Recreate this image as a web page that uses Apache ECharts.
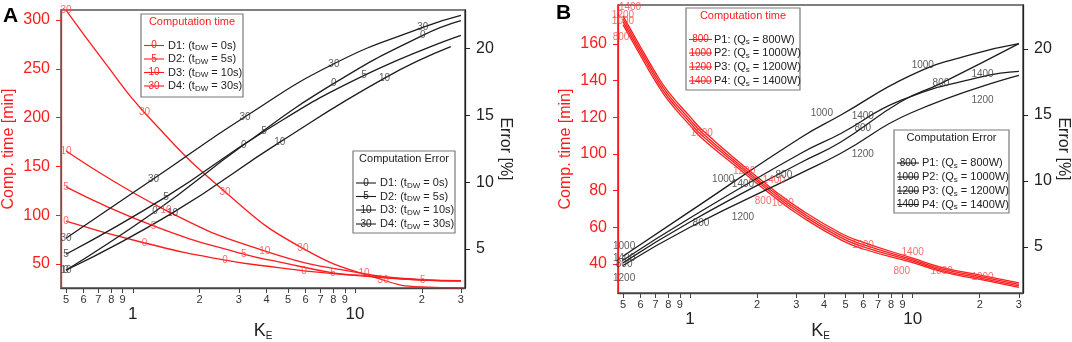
<!DOCTYPE html>
<html>
<head>
<meta charset="utf-8">
<script src="https://cdn.jsdelivr.net/npm/echarts@6/dist/echarts.min.js"></script>
<style>
html,body{margin:0;padding:0;background:#fff;}
#main{width:1072px;height:342px;}
</style>
</head>
<body>
<div id="main"></div>
<script>
// ---- panel A : computation time [min], left axis ----
var timeD1 = [[0.5,94],[1.13,71.5],[2.6,54],[4.6,46],[5.9,43],[11,37.5],[20,33.5],[30,32.5]];
var timeD2 = [[0.5,129],[1.24,89],[3.16,60],[4.6,52],[7.96,41],[11,38],[20.2,33.6],[30,33]];
var timeD3 = [[0.5,166],[1.41,105],[3.97,63],[11,40],[20,34],[30,32.6]];
var timeD4 = [[0.5,310],[0.75,256],[1.13,205],[2.6,124],[5.83,66],[13.4,33.6],[20,26.5],[30,25.5]];
// ---- panel A : computation error [%], right axis ----
var errD1 = [[0.5,3.4],[1.26,7.8],[3.16,12.8],[8.04,17.4],[20.2,21.0],[30,22.1]];
var errD2 = [[0.5,4.6],[1.41,8.9],[3.9,13.8],[11,18.0],[30,21.0]];
var errD3 = [[0.5,3.4],[1.51,7.7],[4.59,13.0],[13.6,17.8],[27,20.15]];
var errD4 = [[0.5,5.8],[1.24,10.25],[3.2,14.9],[8.04,18.87],[20.2,21.6],[30,22.5]];
// text markers sitting on the curves (x, y, text)
var timeMarksA = [
  [0.5,310,'30'],[1.13,205,'30'],[2.6,124,'30'],[5.83,66,'30'],[13.4,33.6,'30'],
  [0.5,166,'10'],[1.41,105,'10'],[3.93,63,'10'],[11,40,'10'],
  [0.5,129,'5'],[1.24,89,'5'],[3.16,60,'5'],[7.96,41,'5'],[20.2,33.6,'5'],
  [0.5,94,'0'],[1.13,71.5,'0'],[2.6,54,'0'],[5.9,43,'0']
];
var errMarksA = [
  [0.5,5.8,'30'],[1.24,10.25,'30'],[3.2,14.9,'30'],[8.04,18.87,'30'],[20.2,21.6,'30'],
  [0.5,4.6,'5'],[1.41,8.9,'5'],[3.9,13.8,'5'],[11,18.0,'5'],
  [0.5,3.4,'0'],[1.26,7.8,'0'],[3.16,12.8,'0'],[8.04,17.4,'0'],[20.2,21.0,'0'],
  [0.5,3.4,'10'],[1.51,7.7,'10'],[4.59,13.0,'10'],[13.6,17.8,'10']
];

// ---- panel B : computation time [min], left axis ----
var timeP1 = [[0.5,170.6],[0.6,153.6],[0.7,139.6],[0.8,129.1],[1,115.6],[1.13,108.6],[1.69,91.2],[2.38,76.7],[3.14,66.2],[4.76,53.2],[6,48.2],[10,40.8],[13.5,35.8],[20.6,31.3],[30,27.3]];
var timeP2 = [[0.5,172.2],[0.6,155.2],[0.7,141.2],[0.8,130.7],[1,117.2],[1.13,110.2],[1.69,92.4],[2.38,77.9],[3.14,67.4],[4.76,54.4],[6,49.4],[10,41.6],[13.5,36.6],[20.6,32.1],[30,28.1]];
var timeP3 = [[0.5,173.8],[0.6,156.8],[0.7,142.8],[0.8,132.3],[1,118.8],[1.13,111.8],[1.69,93.6],[2.38,79.1],[3.14,68.6],[4.76,55.6],[6,50.6],[10,42.4],[13.5,37.4],[20.6,32.9],[30,28.9]];
var timeP4 = [[0.5,175.4],[0.6,158.4],[0.7,144.4],[0.8,133.9],[1,120.4],[1.13,113.4],[1.69,94.8],[2.38,80.3],[3.14,69.8],[4.76,56.8],[6,51.8],[10,43.2],[13.5,38.2],[20.6,33.7],[30,29.7]];
// ---- panel B : computation error [%], right axis ----
var errP1 = [[0.5,3.8],[1,6.9],[3.15,11.4],[4.76,12.95],[8.84,16.0],[13.4,17.4],[30,20.4]];
var errP2 = [[0.5,4.3],[1,7.7],[3.15,13.3],[4.76,15.0],[9.8,18.0],[17.6,19.5],[30,20.4]];
var errP3 = [[0.5,3.6],[1,6.5],[3.15,10.6],[4.76,12.1],[9.8,15.15],[30,18.0]];
var errP4 = [[0.5,4.0],[1,7.2],[3.15,12.1],[4.76,13.6],[8.84,16.1],[20.6,17.9],[30,18.3]];
var timeMarksB = [
  [0.538,180,'1400'],[0.5,175.8,'1200'],[0.5,172.5,'1000'],[0.49,163.8,'800'],
  [1.13,111.5,'1000'],[1.75,90.8,'1200'],[2.38,85.9,'1400'],[2.13,74.4,'800'],[2.61,73.3,'1000'],
  [5.97,50.5,'1000'],[10,46.7,'1400'],[8.94,35.8,'800'],[13.5,35.8,'1000'],[20.6,33,'1000']
];
var errMarksB = [
  [0.506,5.08,'1000'],[0.506,4.17,'1400'],[0.506,3.7,'800'],[0.506,2.65,'1200'],
  [1.12,6.8,'800'],[1.73,7.27,'1200'],[1.41,10.15,'1000'],[1.73,9.77,'1400'],[2.64,10.45,'800'],
  [3.91,15.15,'1000'],[5.97,14.9,'1400'],[5.97,14.0,'800'],[5.97,12.05,'1200'],
  [11.1,18.8,'1000'],[13.4,17.4,'800'],[20.6,18.1,'1400'],[20.6,16.1,'1200']
];

// axis ticks / labels
var kTicks = [0.5,0.6,0.7,0.8,0.9,1,2,3,4,5,6,7,8,9,10,20,30];
var timeTicksA = [50,100,150,200,250,300];
var timeTicksB = [40,60,80,100,120,140,160];
var errTicks = [5,10,15,20];

// legend texts
var legNamesA = ['D1','D2','D3','D4'];
var legDW = ['0','5','10','30'];
var legNamesB = ['P1','P2','P3','P4'];
var legQs = ['800','1000','1200','1400'];

var FONT = '"Liberation Sans", Arial, Helvetica, sans-serif';
var RED = '#ff1c1c', RED_TXT = '#ff4646', BLK = '#1c1c1c';

var chart = echarts.init(document.getElementById('main'));

function fmtK(v) {
  var e = Math.floor(Math.log10(v) + 1e-9);
  var m = Math.round(v / Math.pow(10, e));
  if (m === 1) return '{b|' + Math.round(v) + '}';
  return '{s|' + m + '}';
}

function xAxisFor(g, gap) {
  return {
    type: 'log', gridIndex: g, logBase: 10, min: 0.475, max: 31.3,
    name: '{k|K}{e|E}', nameLocation: 'middle', nameGap: gap, nameMoveOverlap: false,
    nameTextStyle: {rich: {
      k: {fontSize: 18, fontFamily: FONT, color: '#222'},
      e: {fontSize: 10, fontFamily: FONT, color: '#222', padding: [9, 0, 0, 0]}
    }},
    axisLine: {lineStyle: {color: '#444', width: 1.3}},
    axisTick: {customValues: kTicks, length: 5, lineStyle: {color: '#444'}},
    axisLabel: {customValues: kTicks, margin: 6, formatter: fmtK, rich: {
      s: {fontSize: 11, fontFamily: FONT, color: '#333'},
      b: {fontSize: 17, fontFamily: FONT, color: '#222', padding: [12, 0, 0, 0]}
    }},
    splitLine: {show: false}, minorTick: {show: false}
  };
}

function yAxisFor(g, side, min, max, ticks, name, color) {
  return {
    type: 'value', gridIndex: g, position: side, min: min, max: max,
    name: name, nameLocation: 'middle', nameGap: side === 'left' ? 44 : 32,
    nameRotate: side === 'left' ? 90 : -90,
    nameTextStyle: {fontSize: 16, fontFamily: FONT, color: color},
    axisLine: {show: true, lineStyle: {color: color, width: 1.3}},
    axisTick: {show: true, customValues: ticks, length: 5, lineStyle: {color: color}},
    axisLabel: {customValues: ticks, margin: 11, fontSize: 16, fontFamily: FONT, color: color},
    splitLine: {show: false}
  };
}

function curve(data, xi, yi, color) {
  return {type: 'line', xAxisIndex: xi, yAxisIndex: yi, data: data, symbol: 'none',
    smooth: 0.5, silent: true, z: 2,
    lineStyle: {color: color, width: 1.3}};
}

function marks(list, xi, yi, color) {
  return {type: 'scatter', xAxisIndex: xi, yAxisIndex: yi, silent: true, z: 5,
    symbolSize: 1, itemStyle: {color: 'rgba(0,0,0,0)'},
    data: list.map(function (d) { return {value: [d[0], d[1]], name: d[2]}; }),
    label: {show: true, position: 'inside', formatter: '{b}', fontSize: 10,
      fontFamily: FONT, color: color}};
}

// legend boxes drawn with graphic elements
function legend(box, title, titleColor, rowsY, mx, tx, markTexts, markColor, labels) {
  var els = [];
  els.push({type: 'rect', z: 50, shape: {x: box[0], y: box[1], width: box[2], height: box[3]},
    style: {fill: '#fff', stroke: '#7a7a7a', lineWidth: 1.2}});
  els.push({type: 'text', z: 51, x: box[0] + box[2] / 2, y: box[1] + 8,
    style: {text: title, fill: titleColor, font: '11px ' + FONT, align: 'center', verticalAlign: 'middle'}});
  rowsY.forEach(function (y, i) {
    els.push({type: 'line', z: 51, shape: {x1: mx[0], y1: y, x2: mx[1], y2: y},
      style: {stroke: markColor, lineWidth: 1.1}});
    els.push({type: 'text', z: 52, x: (mx[0] + mx[1]) / 2, y: y,
      style: {text: markTexts[i], fill: markColor, font: '10px ' + FONT, align: 'center', verticalAlign: 'middle'}});
    els.push({type: 'text', z: 52, x: tx, y: y,
      style: {text: labels[i], align: 'left', verticalAlign: 'middle', rich: {
        a: {fontSize: 11, fontFamily: FONT, fill: '#222'},
        s: {fontSize: 8, fontFamily: FONT, fill: '#222', padding: [5, 0, 0, 0]}
      }}});
  });
  return els;
}

var labA = legNamesA.map(function (n, i) { return '{a|' + n + ': (t}{s|DW}{a| = ' + legDW[i] + 's)}'; });
var labB = legNamesB.map(function (n, i) { return '{a|' + n + ': (Q}{s|s}{a| = ' + legQs[i] + 'W)}'; });

var graphics = []
  .concat(legend([141, 14, 102, 83], 'Computation time', RED, [45.5, 59, 72.5, 86], [144, 164], 168, legDW, RED, labA))
  .concat(legend([353, 151, 102, 82], 'Computation Error', '#222', [183, 196.5, 210, 224], [356, 376], 380, legDW, BLK, labA))
  .concat(legend([686, 8, 114, 82], 'Computation time', RED, [39.5, 53, 67, 81], [689, 712], 714, legQs, RED, labB))
  .concat(legend([894, 130, 115, 83], 'Computation Error', '#222', [163, 177, 191, 204.5], [897, 919], 922, legQs, BLK, labB));
graphics.push({type: 'text', z: 60, x: 3, y: 6,
  style: {text: 'A', font: 'bold 21px ' + FONT, fill: '#000'}});
graphics.push({type: 'text', z: 60, x: 556, y: 3,
  style: {text: 'B', font: 'bold 21px ' + FONT, fill: '#000'}});

chart.setOption({
  animation: false,
  backgroundColor: '#fff',
  grid: [
    {left: 61, top: 10, right: 607, bottom: 54, show: true, borderColor: '#555', borderWidth: 1.5,
      containLabel: false, outerBoundsMode: 'none'},
    {left: 618, top: 5, right: 49, bottom: 49, show: true, borderColor: '#555', borderWidth: 1.5,
      containLabel: false, outerBoundsMode: 'none'}
  ],
  xAxis: [xAxisFor(0, 34), xAxisFor(1, 29)],
  yAxis: [
    yAxisFor(0, 'left', 25.4, 310.2, timeTicksA, 'Comp. time [min]', RED),
    yAxisFor(0, 'right', 2.07, 22.9, errTicks, 'Error [%]', '#222'),
    yAxisFor(1, 'left', 24.2, 181.3, timeTicksB, 'Comp. time [min]', RED),
    yAxisFor(1, 'right', 1.52, 23.33, errTicks, 'Error [%]', '#222')
  ],
  series: [
    curve(timeD1, 0, 0, RED), curve(timeD2, 0, 0, RED), curve(timeD3, 0, 0, RED), curve(timeD4, 0, 0, RED),
    curve(errD1, 0, 1, BLK), curve(errD2, 0, 1, BLK), curve(errD3, 0, 1, BLK), curve(errD4, 0, 1, BLK),
    marks(timeMarksA, 0, 0, RED_TXT), marks(errMarksA, 0, 1, '#333'),
    curve(timeP1, 1, 2, RED), curve(timeP2, 1, 2, RED), curve(timeP3, 1, 2, RED), curve(timeP4, 1, 2, RED),
    curve(errP1, 1, 3, BLK), curve(errP2, 1, 3, BLK), curve(errP3, 1, 3, BLK), curve(errP4, 1, 3, BLK),
    marks(timeMarksB, 1, 2, RED_TXT), marks(errMarksB, 1, 3, '#333')
  ],
  graphic: graphics
});
</script>
</body>
</html>
